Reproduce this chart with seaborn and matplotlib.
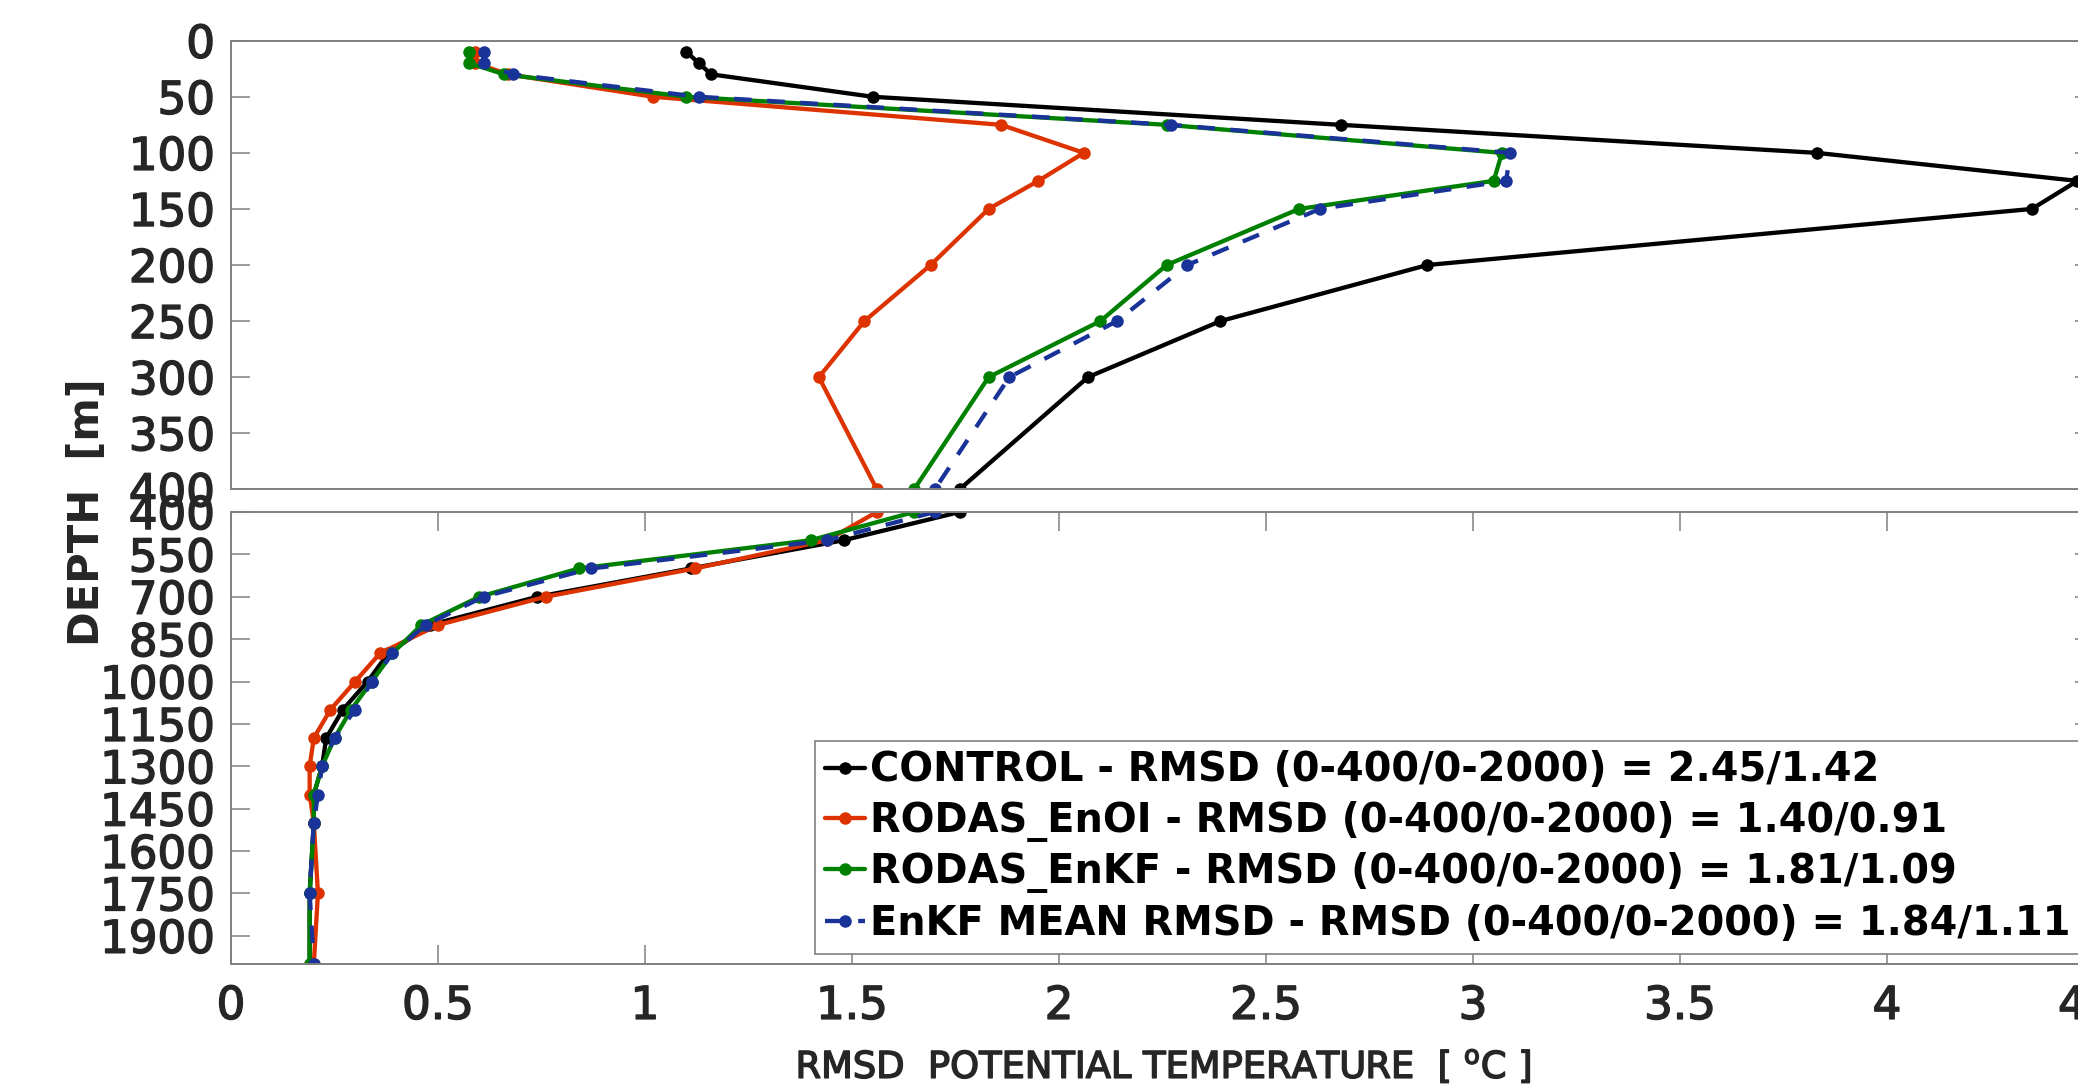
import numpy as np
import pandas as pd
import matplotlib
matplotlib.use("Agg")
import matplotlib.pyplot as plt
import matplotlib.patheffects as pe
import seaborn as sns

# ---------------- data ----------------
depth_top = [10, 20, 30, 50, 75, 100, 125, 150, 200, 250, 300, 400]
depth_bottom = [400, 500, 600, 700, 800, 900, 1000, 1100, 1200, 1300, 1400, 1500, 1750, 2000]

control_top = [1.10, 1.13, 1.16, 1.55, 2.68, 3.83, 4.46, 4.35, 2.89, 2.39, 2.07, 1.76]
enoi_top = [0.59, 0.59, 0.67, 1.02, 1.86, 2.06, 1.95, 1.83, 1.69, 1.53, 1.42, 1.56]
enkf_top = [0.575, 0.575, 0.66, 1.10, 2.26, 3.07, 3.05, 2.58, 2.26, 2.10, 1.83, 1.65]
enkf_mean_top = [0.61, 0.61, 0.68, 1.13, 2.27, 3.09, 3.08, 2.63, 2.31, 2.14, 1.88, 1.70]

control_bottom = [1.76, 1.48, 1.11, 0.74, 0.48, 0.38, 0.33, 0.27, 0.23, 0.22, 0.20, 0.20, 0.19, 0.19]
enoi_bottom = [1.56, 1.44, 1.12, 0.76, 0.50, 0.36, 0.30, 0.24, 0.20, 0.19, 0.19, 0.20, 0.21, 0.20]
enkf_bottom = [1.65, 1.40, 0.84, 0.60, 0.46, 0.39, 0.34, 0.29, 0.25, 0.22, 0.20, 0.20, 0.19, 0.19]
enkf_mean_bottom = [1.70, 1.44, 0.87, 0.61, 0.47, 0.39, 0.34, 0.30, 0.25, 0.22, 0.21, 0.20, 0.19, 0.20]

series_labels = [
    "CONTROL - RMSD (0-400/0-2000) = 2.45/1.42",
    "RODAS_EnOI - RMSD (0-400/0-2000) = 1.40/0.91",
    "RODAS_EnKF - RMSD (0-400/0-2000) = 1.81/1.09",
    "EnKF MEAN RMSD - RMSD (0-400/0-2000) = 1.84/1.11",
]
x_ticks = [0, 0.5, 1, 1.5, 2, 2.5, 3, 3.5, 4, 4.5]
x_tick_labels = ["0", "0.5", "1", "1.5", "2", "2.5", "3", "3.5", "4", "4.5"]
top_y_ticks = [0, 50, 100, 150, 200, 250, 300, 350, 400]
bottom_y_ticks = [400, 550, 700, 850, 1000, 1150, 1300, 1450, 1600, 1750, 1900]
x_label = r"RMSD  POTENTIAL TEMPERATURE  [ $^{\rm o}$C ]"
y_label = "DEPTH  [m]"

# ---------------- style ----------------
sns.set_theme(style="white")
plt.rcParams["font.family"] = ["DejaVu Sans"]
plt.rcParams["mathtext.fontset"] = "dejavusans"

colors = ["#000000", "#DC3300", "#008000", "#1A3399"]
linestyles = ["-", "-", "-", (0, (4.1, 3.6))]
spine_col = "#808080"
text_col = "#262626"
thicken = [pe.withStroke(linewidth=1.1, foreground=text_col)]

W, H = 2078, 1088
fig = plt.figure(figsize=(W / 100, H / 100), dpi=100)
left = 231 / W
width = (2094 - 231) / W
ax_top = fig.add_axes([left, 1 - 489.3 / H, width, (489.3 - 40.7) / H])
ax_bot = fig.add_axes([left, 1 - 964 / H, width, (964 - 512) / H])

top_series = [control_top, enoi_top, enkf_top, enkf_mean_top]
bottom_series = [control_bottom, enoi_bottom, enkf_bottom, enkf_mean_bottom]

for ax, depth, data in [(ax_top, depth_top, top_series), (ax_bot, depth_bottom, bottom_series)]:
    for vals, lab, c, ls in zip(data, series_labels, colors, linestyles):
        sns.lineplot(x=vals, y=depth, sort=False, estimator=None, orient="y", ax=ax,
                     color=c, linestyle=ls, linewidth=3.1, marker="o", markersize=9,
                     markeredgewidth=0, markeredgecolor=c, label=lab, legend=False)

ax_top.set_xlim(0, 4.5)
ax_bot.set_xlim(0, 4.5)
ax_top.set_ylim(400, 0)
ax_bot.set_ylim(2000, 400)
ax_top.set_yticks(top_y_ticks)
ax_top.set_yticklabels([str(t) for t in top_y_ticks])
ax_bot.set_yticks(bottom_y_ticks)
ax_bot.set_yticklabels([str(t) for t in bottom_y_ticks])
ax_top.set_xticks(x_ticks)
ax_bot.set_xticks(x_ticks)
ax_bot.set_xticklabels(x_tick_labels)

for ax in (ax_top, ax_bot):
    ax.set_xlabel("")
    ax.set_ylabel("")
    for s in ax.spines.values():
        s.set_visible(True)
        s.set_color(spine_col)
        s.set_linewidth(1.4)
    ax.tick_params(axis="y", direction="in", length=13.7, width=1.1, color=spine_col,
                   labelcolor=text_col, labelsize=32.5, pad=11.5, left=True, right=True)

ax_top.tick_params(axis="x", bottom=False, top=False, labelbottom=False)
ax_bot.tick_params(axis="x", direction="in", length=13.7, width=1.1, color=spine_col,
                   labelcolor=text_col, labelsize=32.5, pad=15, bottom=True, top=True,
                   labelbottom=True)
for ax in (ax_top, ax_bot):
    for lbl in ax.get_xticklabels() + ax.get_yticklabels():
        lbl.set_path_effects(thicken)

handles, labels = ax_bot.get_legend_handles_labels()
leg = ax_bot.legend(handles, labels, loc="upper left",
                    bbox_to_anchor=(814.7 / W, 1 - 740.5 / H), bbox_transform=fig.transFigure,
                    prop={"weight": "bold", "size": 28.7}, frameon=True, fancybox=False,
                    framealpha=1, edgecolor=spine_col, borderpad=0.25, handlelength=1.0,
                    handletextpad=0.13, labelspacing=0.26, borderaxespad=0)
leg.get_frame().set_linewidth(1.2)
for t in leg.get_texts():
    t.set_color("black")

fig.text(1163 / W, (H - 1078) / H, x_label, ha="center", va="baseline",
         fontsize=26.5, color=text_col, path_effects=thicken)
fig.text(87 / W, 1 - 512 / H, y_label, rotation=90, ha="center", va="center",
         fontsize=30, fontweight="bold", color=text_col)

fig.savefig("out.png", dpi=100)
